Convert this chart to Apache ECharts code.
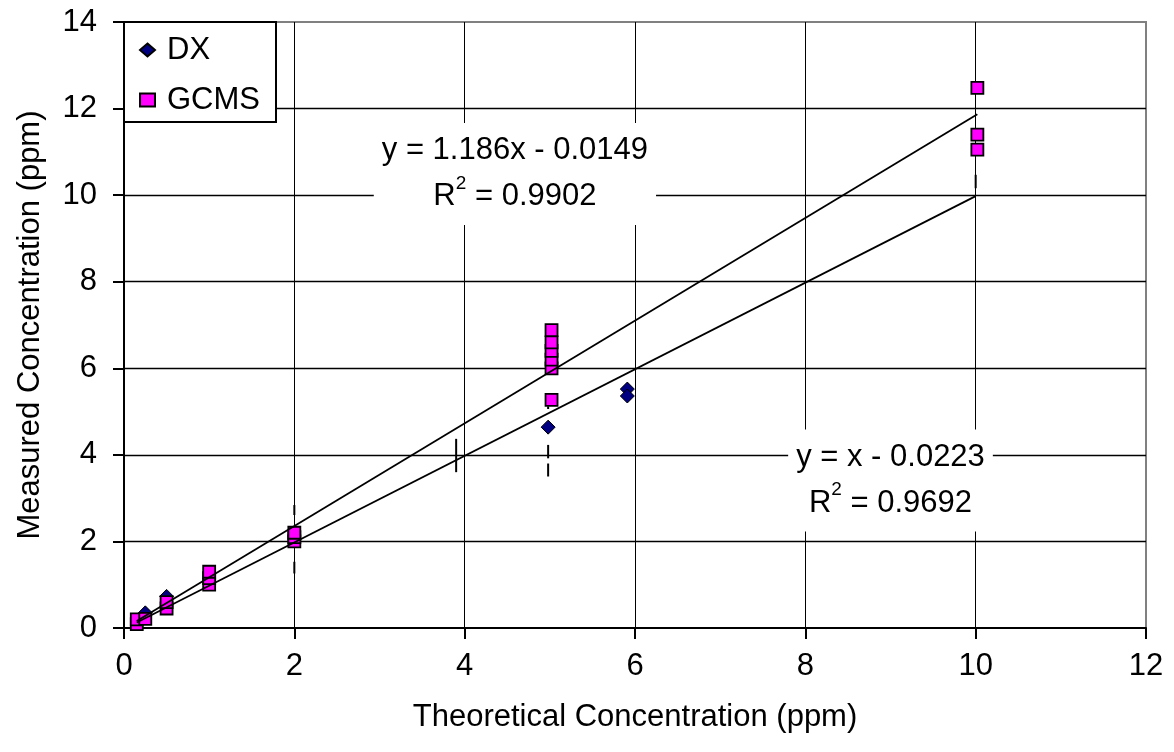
<!DOCTYPE html>
<html><head><meta charset="utf-8">
<script src="https://cdn.jsdelivr.net/npm/echarts@6/dist/echarts.min.js"></script>
<style>html,body{margin:0;padding:0;background:#fff}#c{width:1174px;height:752px}</style>
</head><body><div id="c"></div>
<script>
// ---- data ----
const xTicks = [0, 2, 4, 6, 8, 10, 12];
const yTicks = [0, 2, 4, 6, 8, 10, 12, 14];
const dxX = [0.25, 0.5, 4.98, 5.91, 5.91];
const dxY = [0.35, 0.73, 4.64, 5.52, 5.36];
const gcmsX = [0.15, 0.15, 0.25, 0.5, 0.5, 1, 1, 1, 2, 2, 2, 5.02, 5.02, 5.02, 5.02, 5.02, 5.02, 10.02, 10.02, 10.02];
const gcmsY = [0.09, 0.2, 0.21, 0.45, 0.6, 1.0, 1.15, 1.3, 2.0, 2.1, 2.2, 5.27, 6.0, 6.2, 6.4, 6.6, 6.88, 11.05, 11.4, 12.48];
// trendlines (as printed on the chart) and their x-range
const trendNames = ['GCMS fit', 'DX fit'];
const trendSlope = [1.186, 1.0];
const trendIntercept = [-0.0149, -0.0223];
const trendXmin = [0.15, 0.15];
const trendXmax = [10.02, 10.0];
// vertical dash marks
const dashX = [2.0, 2.0, 3.9, 4.98, 4.98, 4.98, 10.0];
const dashLow = [2.61, 1.26, 3.6, 3.92, 3.5, 5.06, 10.16];
const dashHigh = [2.84, 1.53, 4.37, 4.23, 3.8, 5.12, 10.47];
// equation labels
const eqText = [['y = 1.186x - 0.0149', '0.9902'], ['y = x - 0.0223', '0.9692']];
const eqX = [4.59, 9.0];
const eqY = [10.49, 3.41];

const FF = "'Liberation Sans', Arial, sans-serif";
const FS = 31;

const chart = echarts.init(document.getElementById('c'), null, {renderer: 'canvas'});

const trendSeries = trendNames.map((n, i) => ({
  name: n, type: 'line', silent: true, symbol: 'none', z: 5,
  lineStyle: {color: '#000', width: 1.8, opacity: 1},
  data: [
    [trendXmin[i], trendSlope[i] * trendXmin[i] + trendIntercept[i]],
    [trendXmax[i], trendSlope[i] * trendXmax[i] + trendIntercept[i]]
  ]
}));

const option = {
  animation: false,
  backgroundColor: '#fff',
  grid: {left: 124, right: 28, top: 22, bottom: 124, show: true, borderColor: '#808080', borderWidth: 2, backgroundColor: '#fff'},
  xAxis: {
    type: 'value', min: 0, max: 12, interval: 2,
    name: 'Theoretical Concentration (ppm)', nameLocation: 'middle', nameGap: 74,
    nameTextStyle: {fontSize: FS, fontFamily: FF, color: '#000'},
    axisLine: {show: true, lineStyle: {color: '#000', width: 2}},
    axisTick: {show: true, length: 11, lineStyle: {color: '#000', width: 2}},
    axisLabel: {fontSize: FS, fontFamily: FF, color: '#000', margin: 23,
      formatter: v => xTicks.includes(v) ? String(v) : ''},
    splitLine: {show: true, showMinLine: false, showMaxLine: false, lineStyle: {color: '#000', width: 1}}
  },
  yAxis: {
    type: 'value', min: 0, max: 14, interval: 2,
    name: 'Measured Concentration (ppm)', nameLocation: 'middle', nameGap: 78, nameRotate: 90,
    nameTextStyle: {fontSize: FS, fontFamily: FF, color: '#000'},
    axisLine: {show: true, lineStyle: {color: '#000', width: 2}},
    axisTick: {show: true, length: 11, lineStyle: {color: '#000', width: 2}},
    axisLabel: {fontSize: FS, fontFamily: FF, color: '#000', margin: 27,
      formatter: v => yTicks.includes(v) ? String(v) : ''},
    splitLine: {show: true, showMinLine: false, showMaxLine: false, lineStyle: {color: '#000', width: 1.4}}
  },
  legend: {
    orient: 'vertical', left: 124, top: 22,
    backgroundColor: '#fff', borderColor: '#000', borderWidth: 2, borderRadius: 0,
    padding: [11, 16, 5, 15], itemGap: 16, itemWidth: 15, itemHeight: 13,
    textStyle: {fontSize: FS, fontFamily: FF, color: '#000', lineHeight: 34, padding: [0, 0, 0, 7]},
    data: [{name: 'DX', icon: 'diamond'}, {name: 'GCMS', icon: 'rect'}],
    selectedMode: false
  },
  series: [
    {
      name: 'dashes', type: 'custom', silent: true, z: 2,
      data: dashX.map((x, i) => [x, dashLow[i], dashHigh[i]]),
      renderItem: (params, api) => {
        const p1 = api.coord([api.value(0), api.value(1)]);
        const p2 = api.coord([api.value(0), api.value(2)]);
        return {type: 'line', shape: {x1: p1[0], y1: p1[1], x2: p2[0], y2: p2[1]},
          style: {stroke: '#000', lineWidth: 2}};
      }
    },
    {
      name: 'DX', type: 'scatter', symbol: 'diamond', symbolSize: [14, 14], z: 3,
      itemStyle: {color: '#000080', borderColor: '#000', borderWidth: 1, opacity: 1},
      emphasis: {disabled: true},
      data: dxX.map((x, i) => [x, dxY[i]])
    },
    {
      name: 'GCMS', type: 'scatter', symbol: 'rect', symbolSize: [12, 12], z: 4,
      itemStyle: {color: '#ff00ff', borderColor: '#000', borderWidth: 1.8, opacity: 1},
      emphasis: {disabled: true},
      data: gcmsX.map((x, i) => [x, gcmsY[i]])
    },
    ...trendSeries,
    {
      name: 'equations', type: 'scatter', silent: true, symbolSize: 0, z: 10,
      itemStyle: {opacity: 1},
      data: eqX.map((x, i) => ({value: [x, eqY[i]], eq: eqText[i]})),
      label: {
        show: true, position: 'inside', align: 'center', verticalAlign: 'middle',
        backgroundColor: '#fff', padding: [5, 8],
        formatter: p => p.data.eq[0] + '\n{r|R}{s|2}{r| = ' + p.data.eq[1] + '}',
        fontSize: FS, fontFamily: FF, color: '#000', lineHeight: 46, opacity: 1,
        rich: {
          r: {fontSize: FS, fontFamily: FF, color: '#000', lineHeight: 46},
          s: {fontSize: 19, fontFamily: FF, color: '#000', lineHeight: 46, verticalAlign: 'top', padding: [0, 0, 14, 0]}
        }
      }
    }
  ]
};
chart.setOption(option);
</script>
</body></html>
